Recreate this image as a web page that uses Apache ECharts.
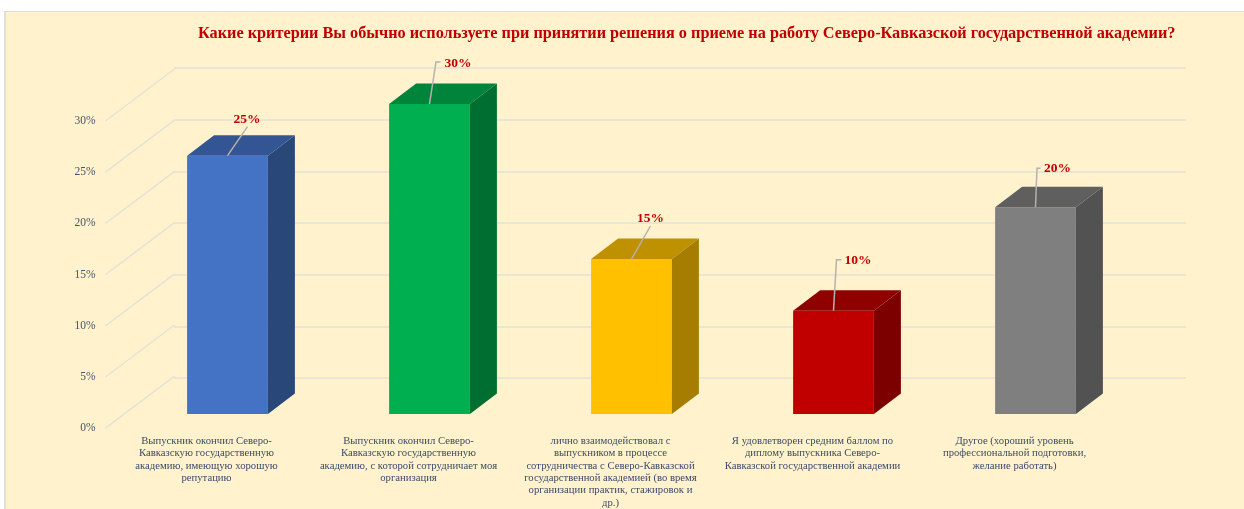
<!DOCTYPE html>
<html>
<head>
<meta charset="utf-8">
<title>Критерии приема на работу</title>
<style>
  html, body { margin: 0; height: 100%; background: #fff; overflow: hidden; }
  #panel { position: absolute; left: 4px; top: 11px; right: 0; bottom: 0; background: #fff2cc; border-left: 2px solid #e2e0da; border-top: 1px solid #dedcd6; }
  #chart { position: absolute; left: 0; top: 0; width: 1244px; height: 509px; }
</style>
</head>
<body>
<div id="panel"></div>
<div id="chart"></div>
<script src="https://cdn.jsdelivr.net/npm/echarts@6/dist/echarts.min.js"></script>
<script>
const titleText = 'Какие критерии Вы обычно используете при принятии решения о приеме на работу Северо-Кавказской государственной академии?'

const categories = [
  'Выпускник окончил Северо-\nКавказскую государственную\nакадемию, имеющую хорошую\nрепутацию',
  'Выпускник окончил Северо-\nКавказскую государственную\nакадемию, с которой сотрудничает моя\nорганизация',
  'лично взаимодействовал с\nвыпускником в процессе\nсотрудничества с Северо-Кавказской\nгосударственной академией (во время\nорганизации практик, стажировок и\nдр.)',
  'Я удовлетворен средним баллом по\nдиплому выпускника Северо-\nКавказской государственной академии',
  'Другое (хороший уровень\nпрофессиональной подготовки,\nжелание работать)'
]
const values = [25, 30, 15, 10, 20]
const yTicks = [0, 5, 10, 15, 20, 25, 30]

// front, top, side
const barColors = [
  ['#4472c4', '#335593', '#2a4779'],
  ['#00b050', '#00843c', '#006d31'],
  ['#ffc000', '#bf9000', '#a67d00'],
  ['#c00000', '#900000', '#7c0000'],
  ['#7f7f7f', '#5f5f5f', '#525252']
]

// leader line points and label centre, relative to the middle of the bar's top edge
const leaders = [
  { line: [[0, 0], [20, -29]], text: [19.5, -36.5] },
  { line: [[0, 0], [6.5, -42], [11, -42]], text: [28.5, -40.5] },
  { line: [[0, 0], [19, -33]], text: [19, -40.5] },
  { line: [[0, 0], [3, -51], [8, -51]], text: [24.5, -50.5] },
  { line: [[0, 0], [1.5, -39], [5, -39]], text: [22, -38.5] }
]

const wallDepth = [69, -52]
const barDepth = [27, -20.5]
const barRatio = 0.4

const gridColor = '#e5e2d7'
const serif = '"Liberation Serif", "Times New Roman", serif'

function renderDiagonal (params, api) {
  const y = api.coord([0, api.value(1)])[1]
  const x = params.coordSys.x
  return {
    type: 'line',
    silent: true,
    shape: { x1: x, y1: y, x2: x + wallDepth[0], y2: y + wallDepth[1] },
    style: { stroke: gridColor, lineWidth: 1.5 }
  }
}

function renderBar (params, api) {
  const i = params.dataIndex
  const top = api.coord([api.value(0), api.value(1)])
  const bottom = api.coord([api.value(0), 0])
  const w = api.size([1, 0])[0] * barRatio
  const x = top[0] - w / 2
  const yt = top[1]
  const yb = bottom[1]
  const [dx, dy] = barDepth
  const [front, topFace, side] = barColors[i]
  const leader = leaders[i]
  return {
    type: 'group',
    children: [
      { type: 'rect', shape: { x, y: yt, width: w, height: yb - yt }, style: { fill: front } },
      {
        type: 'polygon',
        shape: { points: [[x, yt], [x + w, yt], [x + w + dx, yt + dy], [x + dx, yt + dy]] },
        style: { fill: topFace }
      },
      {
        type: 'polygon',
        shape: { points: [[x + w, yt], [x + w + dx, yt + dy], [x + w + dx, yb + dy], [x + w, yb]] },
        style: { fill: side }
      },
      {
        type: 'polyline',
        shape: { points: leader.line.map(p => [top[0] + p[0], yt + p[1]]) },
        style: { stroke: '#b4b2ac', lineWidth: 1.5, fill: null }
      },
      {
        type: 'text',
        style: {
          x: top[0] + leader.text[0],
          y: yt + leader.text[1],
          text: api.value(1) + '%',
          fill: '#c00000',
          font: 'bold 13.5px ' + serif,
          align: 'center',
          verticalAlign: 'middle'
        }
      }
    ]
  }
}

const chart = echarts.init(document.getElementById('chart'))
chart.setOption({
  animation: false,
  title: {
    text: titleText,
    left: 193,
    top: 21,
    textStyle: { color: '#c00000', fontFamily: serif, fontWeight: 'bold', fontSize: 16.25 }
  },
  grid: [
    { left: 174, top: 68, width: 1012, height: 310 }, // back wall
    { left: 105.5, top: 121, width: 1010, height: 309 }, // front plane, carries the labels
    { left: 126.5, top: 104, width: 1010, height: 310 } // plane the bars stand on
  ],
  xAxis: [
    { gridIndex: 0, type: 'category', data: categories, show: false },
    {
      gridIndex: 1,
      type: 'category',
      data: categories,
      axisLine: { show: false },
      axisTick: { show: false },
      axisLabel: {
        interval: 0,
        margin: 7,
        color: '#3c4a6a',
        fontFamily: serif,
        fontSize: 10.7,
        lineHeight: 12.3,
        align: 'center',
        verticalAlign: 'top'
      }
    },
    { gridIndex: 2, type: 'category', data: categories, show: false }
  ],
  yAxis: [
    {
      gridIndex: 0,
      type: 'value',
      min: 0,
      max: 30,
      interval: 5,
      axisLine: { show: false },
      axisTick: { show: false },
      axisLabel: { show: false },
      splitLine: { lineStyle: { color: gridColor, width: 1.5 } }
    },
    {
      gridIndex: 1,
      type: 'value',
      min: 0,
      max: 30,
      interval: 5,
      axisLine: { show: false },
      axisTick: { show: false },
      splitLine: { show: false },
      axisLabel: {
        margin: 10,
        color: '#44546a',
        fontFamily: serif,
        fontSize: 11.5,
        formatter: '{value}%'
      }
    },
    { gridIndex: 2, type: 'value', min: 0, max: 30, interval: 5, show: false }
  ],
  series: [
    {
      type: 'custom',
      xAxisIndex: 1,
      yAxisIndex: 1,
      silent: true,
      clip: false,
      data: yTicks.map(v => [0, v]),
      renderItem: renderDiagonal
    },
    {
      type: 'custom',
      xAxisIndex: 2,
      yAxisIndex: 2,
      silent: true,
      clip: false,
      data: values.map((v, i) => [i, v]),
      renderItem: renderBar
    }
  ]
})
</script>
</body>
</html>
